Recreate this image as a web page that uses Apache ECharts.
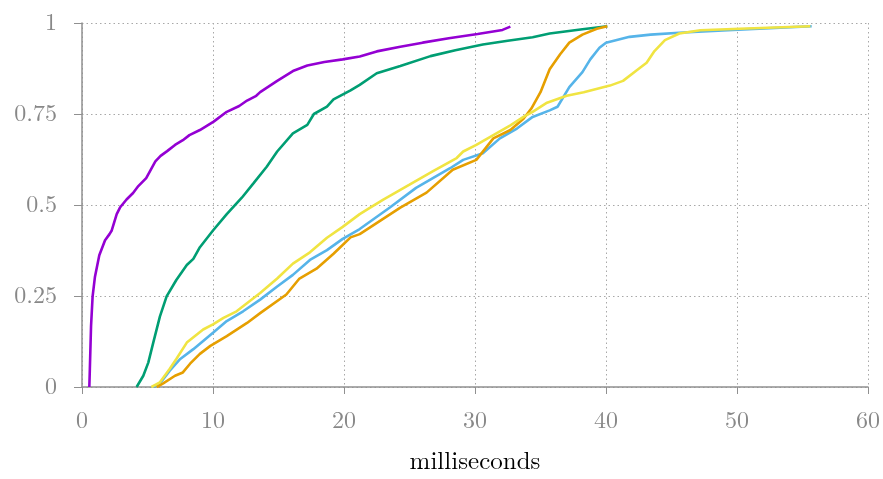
<!DOCTYPE html>
<html>
<head>
<meta charset="utf-8">
<script src="https://cdn.jsdelivr.net/npm/echarts@6/dist/echarts.min.js"></script>
<style>html,body{margin:0;padding:0;background:#fff;}#c{width:883px;height:479px;}</style>
</head>
<body>
<div id="c"></div>
<script>
const xTicks = [0, 10, 20, 30, 40, 50, 60];
const yTicks = [0, 0.25, 0.5, 0.75, 1];
const xTitle = 'milliseconds';

const purpleX = [0.56,0.6,0.69,0.81,0.99,1.32,1.76,2.1,2.27,2.65,2.9,3.4,3.9,4.3,4.9,5.6,6.0,6.5,7.1,7.7,8.2,9.0,10.05,11.05,12.0,12.6,13.3,13.6,14.9,16.1,17.2,18.5,19.9,21.2,22.5,24.3,26.0,28.0,30.2,32.1,32.7];
const purpleY = [0,0.05,0.167,0.249,0.303,0.362,0.403,0.42,0.43,0.475,0.493,0.515,0.533,0.552,0.574,0.62,0.635,0.648,0.665,0.678,0.692,0.706,0.729,0.756,0.772,0.787,0.8,0.81,0.841,0.868,0.883,0.893,0.9,0.908,0.922,0.935,0.946,0.958,0.97,0.981,0.99];

const greenX = [4.17,4.68,5.06,5.44,5.95,6.46,7.2,8.0,8.5,9.0,10.0,11.05,12.2,13.1,14.1,14.9,16.1,17.2,17.7,18.7,19.2,20.5,21.2,22.5,24.3,26.6,28.5,30.6,32.5,34.4,35.7,38.2,40.1];
const greenY = [0,0.031,0.067,0.122,0.194,0.249,0.294,0.335,0.352,0.384,0.43,0.475,0.52,0.56,0.605,0.647,0.697,0.72,0.75,0.77,0.79,0.815,0.83,0.862,0.882,0.909,0.925,0.941,0.951,0.961,0.971,0.983,0.991];

const blueX = [5.4,5.95,6.7,7.5,8.5,10,11.05,12.3,13.6,14.9,16.1,17.4,18.7,19.9,21.2,23.5,25.5,28.1,29.1,30.6,31.9,33.2,34.4,35.7,36.3,37.2,38.2,38.8,39.5,40.0,41.8,43.4,45.9,49.7,55.7];
const blueY = [0,0.01,0.045,0.077,0.104,0.149,0.181,0.208,0.24,0.276,0.308,0.349,0.376,0.407,0.434,0.493,0.547,0.601,0.624,0.642,0.683,0.71,0.742,0.76,0.77,0.824,0.865,0.9,0.932,0.946,0.962,0.968,0.974,0.981,0.991];

const orangeX = [5.7,6.2,7.1,7.7,8.25,9.0,9.8,11.05,12.6,13.6,15.6,16.6,17.9,19.2,20.5,21.2,24.3,26.3,28.3,30.1,31.4,32.7,33.7,34.3,35.0,35.7,36.5,37.2,38.2,39.3,40.1];
const orangeY = [0,0.01,0.031,0.04,0.064,0.091,0.113,0.14,0.176,0.203,0.254,0.298,0.325,0.366,0.411,0.42,0.493,0.534,0.597,0.624,0.683,0.706,0.737,0.765,0.81,0.873,0.914,0.946,0.968,0.984,0.991];

const yellowX = [5.3,5.95,6.7,7.2,8.0,9.25,10,10.8,11.8,13.6,14.9,16.1,17.4,18.7,19.9,21.2,22.0,23.0,25.0,26.8,28.6,29.1,30.1,31.4,32.7,33.7,34.4,35.5,37.0,38.3,40.3,41.3,42.3,43.1,43.7,44.5,45.6,47.2,50.2,55.6];
const yellowY = [0,0.013,0.05,0.077,0.122,0.158,0.172,0.19,0.208,0.258,0.298,0.339,0.37,0.41,0.44,0.475,0.493,0.515,0.556,0.593,0.629,0.647,0.665,0.692,0.719,0.742,0.756,0.781,0.8,0.81,0.828,0.841,0.869,0.891,0.923,0.953,0.971,0.98,0.984,0.991];

const seriesDefs = [
  {name: 'purple', xs: purpleX, ys: purpleY, color: '#9400d3'},
  {name: 'green', xs: greenX, ys: greenY, color: '#009e73'},
  {name: 'blue', xs: blueX, ys: blueY, color: '#56b4e9'},
  {name: 'orange', xs: orangeX, ys: orangeY, color: '#e69f00'},
  {name: 'yellow', xs: yellowX, ys: yellowY, color: '#f0e442'}
];

const font = '"Latin Modern Roman","Liberation Serif","DejaVu Serif",serif';
const chart = echarts.init(document.getElementById('c'), null, {renderer: 'canvas'});
const gridLine = {show: true, lineStyle: {color: '#a8a8a8', width: 1, type: [1.5, 3]}};
chart.setOption({
  animation: false,
  grid: {left: 82, right: 15, top: 23, bottom: 88},
  xAxis: {
    type: 'value', min: xTicks[0], max: xTicks[xTicks.length - 1], interval: 10,
    name: xTitle, nameLocation: 'middle', nameGap: 62,
    nameTextStyle: {fontFamily: font, fontSize: 25, color: '#000'},
    axisLine: {show: true, lineStyle: {color: '#909090', width: 1.5}},
    axisTick: {show: true, inside: false, length: 7, lineStyle: {color: '#909090'}},
    axisLabel: {margin: 22, fontFamily: font, fontSize: 24, color: '#888'},
    splitLine: gridLine
  },
  yAxis: {
    type: 'value', min: yTicks[0], max: yTicks[yTicks.length - 1], interval: 0.25,
    axisLine: {show: true, lineStyle: {color: '#909090', width: 1.5}},
    axisTick: {show: true, inside: false, length: 8, lineStyle: {color: '#909090'}},
    axisLabel: {margin: 25, fontFamily: font, fontSize: 24, color: '#888',
      formatter: v => String(v)},
    splitLine: gridLine
  },
  series: seriesDefs.map(s => ({
    name: s.name, type: 'line', showSymbol: false, symbol: 'none', smooth: false,
    data: s.xs.map((x, i) => [x, s.ys[i]]),
    lineStyle: {color: s.color, width: 2.6},
    itemStyle: {color: s.color}
  }))
});
</script>
</body>
</html>
